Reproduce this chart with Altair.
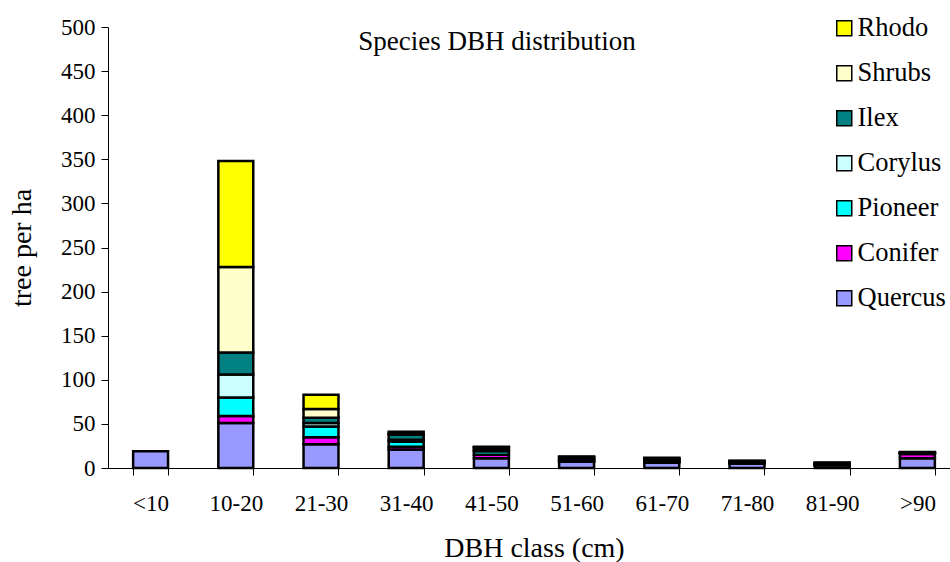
import altair as alt
import pandas as pd

categories = ["<10", "10-20", "21-30", "31-40", "41-50", "51-60", "61-70", "71-80", "81-90", ">90"]
species = ["Rhodo", "Shrubs", "Ilex", "Corylus", "Pioneer", "Conifer", "Quercus"]
colors = ["#FFFF00", "#FFFFCC", "#008080", "#CCFFFF", "#00FFFF", "#FF00FF", "#9999FF"]

quercus = [19, 51, 27, 21, 11, 7, 6, 5, 3, 11]
conifer = [0, 8, 8, 3, 4, 1, 1, 0.5, 0.5, 5]
pioneer = [0, 21, 12, 6, 4, 1, 1, 0.5, 0.5, 0.5]
corylus = [0, 26, 4, 2, 1, 1, 1, 0.5, 0.5, 0.5]
ilex = [0, 25, 6, 6, 3, 2, 1.5, 1, 1, 0.5]
shrubs = [0, 97, 10, 1, 0.5, 0.5, 0.5, 0.5, 0.3, 0.3]
rhodo = [0, 120, 16, 2, 0.5, 0.5, 0.5, 0.3, 0.3, 0.3]

series = {
    "Quercus": quercus, "Conifer": conifer, "Pioneer": pioneer, "Corylus": corylus,
    "Ilex": ilex, "Shrubs": shrubs, "Rhodo": rhodo,
}
stack_order = ["Quercus", "Conifer", "Pioneer", "Corylus", "Ilex", "Shrubs", "Rhodo"]

rows = []
for sp in stack_order:
    for cat, v in zip(categories, series[sp]):
        if v > 0:
            rows.append({"cls": cat, "species": sp, "value": v, "ord": stack_order.index(sp)})
df = pd.DataFrame(rows)

FONT = "Times New Roman, Liberation Serif, serif"

chart = alt.Chart(df).mark_bar(stroke="black", strokeWidth=2.5).encode(
    x=alt.X("cls:N", sort=categories,
            scale=alt.Scale(domain=categories, range=[0, 852], paddingInner=0.59, paddingOuter=0.295),
            axis=alt.Axis(title="DBH class (cm)", labelAngle=0, tickBand="extent", tickSize=7,
                          labelPadding=17, titlePadding=19)),
    y=alt.Y("value:Q", stack="zero",
            scale=alt.Scale(domain=[0, 500], nice=False),
            axis=alt.Axis(title="tree per ha", values=list(range(0, 501, 50)), tickSize=7,
                          labelPadding=6, titlePadding=24, grid=False)),
    color=alt.Color("species:N",
                    scale=alt.Scale(domain=species, range=colors),
                    legend=alt.Legend(title=None, orient="none", legendX=723, legendY=-12,
                                      symbolType="square", symbolSize=225,
                                      symbolStrokeColor="black", symbolStrokeWidth=1.5,
                                      labelFontSize=26.5, labelFont=FONT, labelColor="black",
                                      labelOffset=0, rowPadding=18)),
    order=alt.Order("ord:Q", sort="ascending"),
).properties(
    width=842, height=441,
    title=alt.TitleParams("Species DBH distribution", font=FONT, fontSize=27, fontWeight="normal",
                          anchor="middle", dx=-32, dy=45, color="black"),
    autosize=alt.AutoSizeParams(type="none"),
    padding={"left": 108, "top": 27, "right": 0, "bottom": 94},
).configure_axis(
    labelFont=FONT, titleFont=FONT, labelFontSize=23, titleFontSize=28,
    labelColor="black", titleColor="black", titleFontWeight="normal",
    domainColor="black", tickColor="black", domainWidth=1, tickWidth=1,
).configure_view(stroke=None)

chart.save("out.html", embed_options={"renderer": "svg", "actions": False})
